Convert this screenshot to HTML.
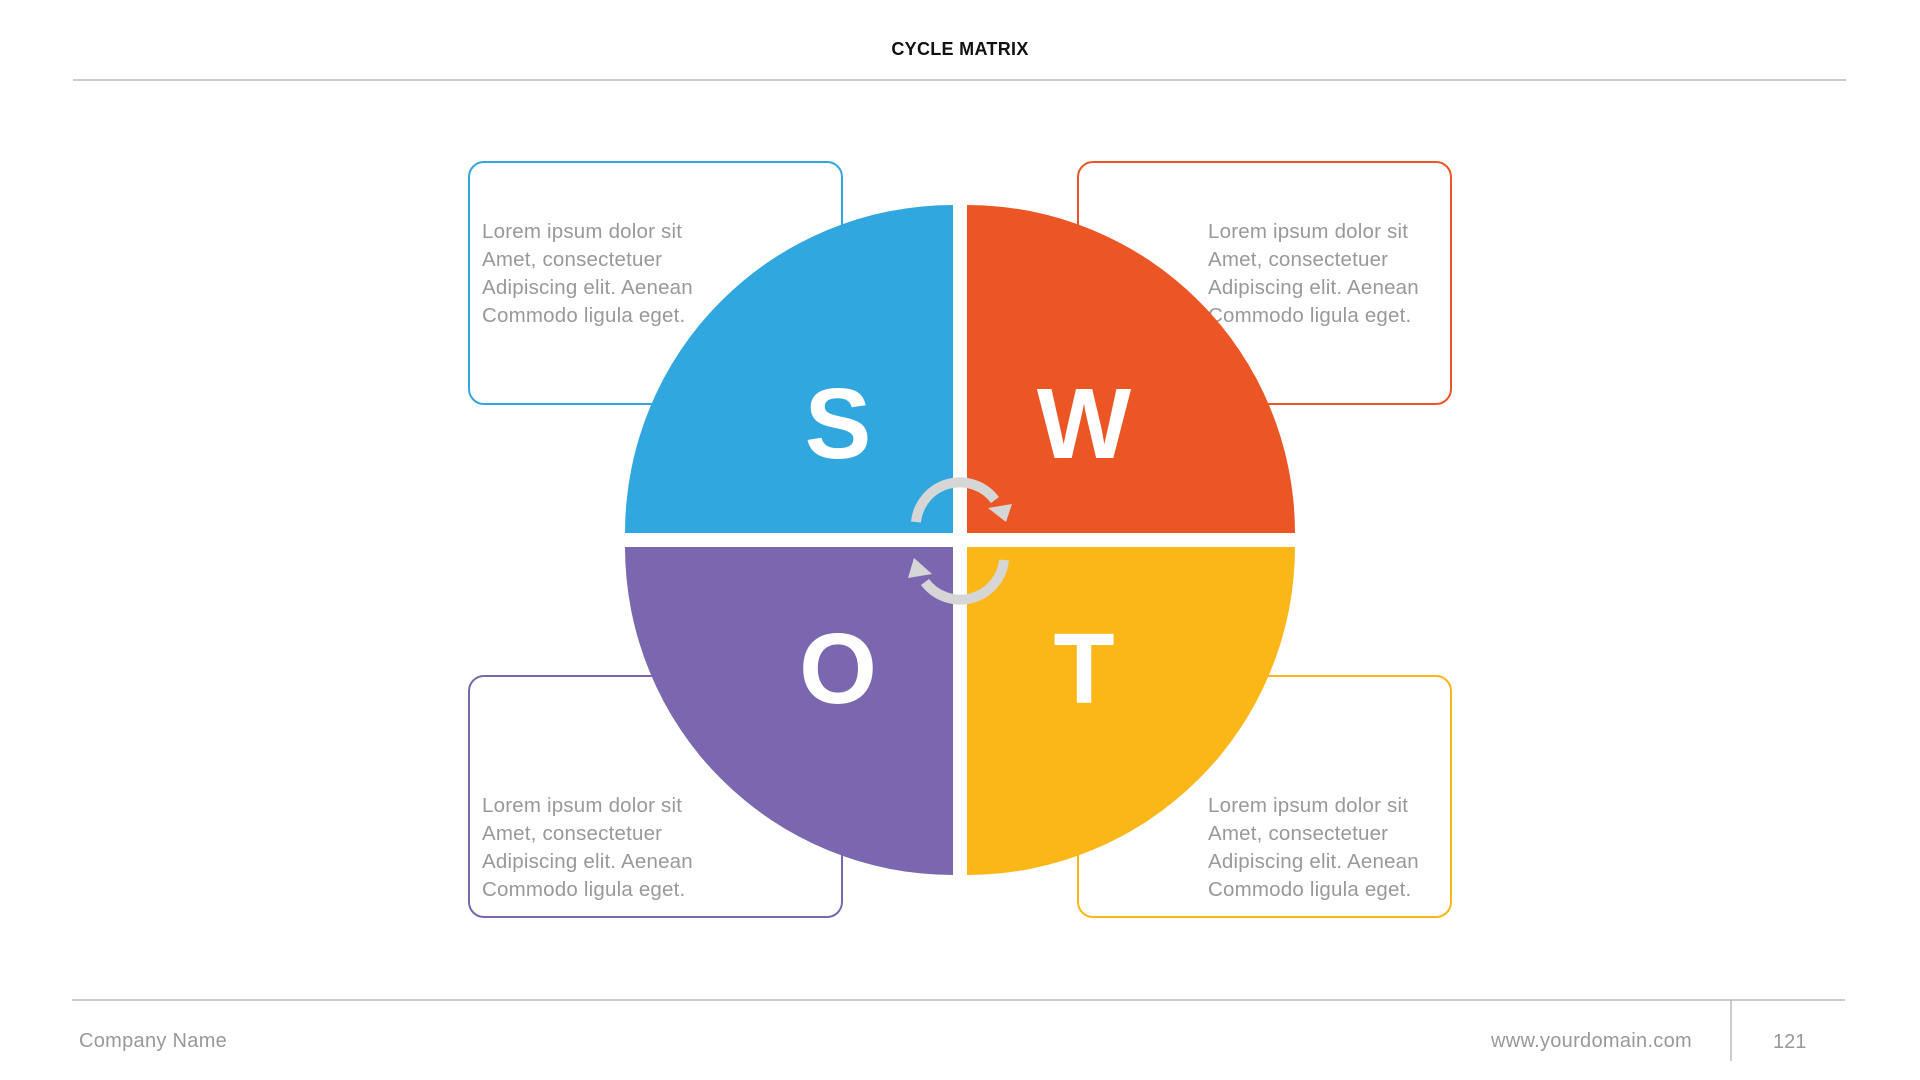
<!DOCTYPE html>
<html><head><meta charset="utf-8"><style>
body{margin:0;width:1920px;height:1080px;background:#fff;overflow:hidden;font-family:"Liberation Sans",sans-serif;}
svg{position:absolute;left:0;top:0}
</style></head><body>
<svg width="1920" height="1080" viewBox="0 0 1920 1080" font-family="Liberation Sans, sans-serif">
<text x="960" y="55" text-anchor="middle" font-size="18" font-weight="bold" fill="#111" letter-spacing="0.3">CYCLE MATRIX</text>
<line x1="73" y1="80" x2="1846" y2="80" stroke="#bbb" stroke-width="1.5"/>
<line x1="72" y1="1000" x2="1845" y2="1000" stroke="#bbb" stroke-width="1.5"/>
<line x1="1731" y1="1000" x2="1731" y2="1061" stroke="#bbb" stroke-width="1.5"/>
<text x="79" y="1047" font-size="20" fill="#999" letter-spacing="0.3">Company Name</text>
<text x="1692" y="1047" font-size="20" fill="#999" text-anchor="end" letter-spacing="0.3">www.yourdomain.com</text>
<text x="1773" y="1048" font-size="20" fill="#999">121</text>

<rect x="469" y="162" width="373" height="242" rx="15" fill="none" stroke="#31A7DF" stroke-width="2"/>
<rect x="1078" y="162" width="373" height="242" rx="15" fill="none" stroke="#EC5625" stroke-width="2"/>
<rect x="469" y="676" width="373" height="241" rx="15" fill="none" stroke="#7B67AF" stroke-width="2"/>
<rect x="1078" y="676" width="373" height="241" rx="15" fill="none" stroke="#FBB617" stroke-width="2"/>

<g font-size="20.5" fill="#999" letter-spacing="0.2">
<text x="482" y="238">Lorem ipsum dolor sit</text><text x="482" y="266">Amet, consectetuer</text><text x="482" y="294">Adipiscing elit. Aenean</text><text x="482" y="322">Commodo ligula eget.</text>
<text x="1208" y="238">Lorem ipsum dolor sit</text><text x="1208" y="266">Amet, consectetuer</text><text x="1208" y="294">Adipiscing elit. Aenean</text><text x="1208" y="322">Commodo ligula eget.</text>
<text x="482" y="812">Lorem ipsum dolor sit</text><text x="482" y="840">Amet, consectetuer</text><text x="482" y="868">Adipiscing elit. Aenean</text><text x="482" y="896">Commodo ligula eget.</text>
<text x="1208" y="812">Lorem ipsum dolor sit</text><text x="1208" y="840">Amet, consectetuer</text><text x="1208" y="868">Adipiscing elit. Aenean</text><text x="1208" y="896">Commodo ligula eget.</text>
</g>

<path d="M953,533 L625,533 A328,328 0 0 1 953,205 Z" fill="#31A7DF"/>
<path d="M967,533 L967,205 A328,328 0 0 1 1295,533 Z" fill="#EC5625"/>
<path d="M953,547 L953,875 A328,328 0 0 1 625,547 Z" fill="#7B67AF"/>
<path d="M967,547 L1295,547 A328,328 0 0 1 967,875 Z" fill="#FBB617"/>

<g font-size="100" font-weight="bold" fill="#fff" text-anchor="middle">
<text x="838" y="458">S</text>
<text x="1084" y="458">W</text>
<text x="838" y="703">O</text>
<text x="1084" y="703">T</text>
</g>

<g fill="none" stroke="#d6d6d6" stroke-width="10">
<path d="M916,522 A44,44 0 0 1 995,500"/>
<path d="M1004,560 A44,44 0 0 1 925,582"/>
</g>
<polygon points="988,508 1012,504 1006,522" fill="#d6d6d6"/>
<polygon points="932,574 908,578 914,558" fill="#d6d6d6"/>
</svg>
</body></html>
